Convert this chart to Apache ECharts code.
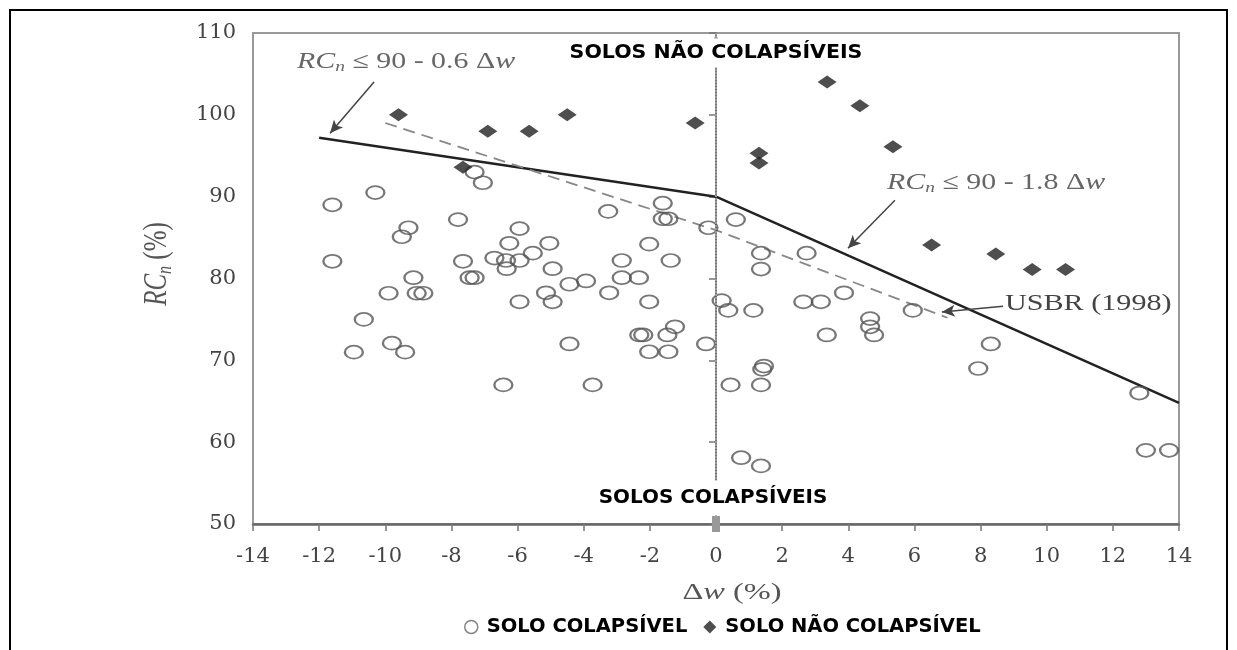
<!DOCTYPE html>
<html>
<head>
<meta charset="utf-8">
<script src="https://cdn.jsdelivr.net/npm/echarts@6/dist/echarts.min.js"></script>
<style>html,body{margin:0;padding:0;background:#fff}#c{width:1237px;height:650px}</style>
</head>
<body>
<div id="c"></div>
<script>
// Δw (%), RCn (%)
const soloColapsivel = [
  [-11.6,89],[-11.6,82.1],[-10.3,90.5],[-10.65,75],[-10.95,71],[-9.9,78.2],[-9.8,72.1],[-9.4,71],
  [-9.5,85.1],[-9.3,86.2],[-9.15,80.1],[-9.05,78.2],[-8.85,78.2],[-7.8,87.2],[-7.65,82.1],[-7.45,80.1],
  [-7.3,80.1],[-7.3,93],[-7.05,91.7],[-6.7,82.5],[-6.35,82.2],[-6.33,81.2],[-6.25,84.3],[-5.94,86.1],
  [-5.94,82.2],[-5.94,77.15],[-5.54,83.1],[-5.04,84.3],[-4.94,81.2],[-5.14,78.25],[-4.94,77.15],[-4.43,79.3],
  [-3.93,79.7],[-4.43,72],[-6.43,67],[-3.73,67],[-3.26,88.2],[-3.23,78.25],[-2.85,82.2],[-2.85,80.1],
  [-2.33,80.1],[-2.02,84.2],[-2.02,77.15],[-2.32,73.1],[-2.2,73.1],[-2.02,71.05],[-1.61,89.2],[-1.61,87.3],
  [-1.44,87.3],[-1.37,82.2],[-1.47,73.1],[-1.24,74.1],[-1.44,71.05],[-0.23,86.2],[-0.3,72],[0.17,77.3],
  [0.37,76.1],[0.6,87.2],[0.44,67],[0.76,58.1],[1.13,76.1],[1.36,83.1],[1.36,81.15],[1.45,69.3],
  [1.4,68.9],[1.36,67],[1.36,57.1],[2.64,77.15],[2.74,83.1],[3.17,77.15],[3.35,73.1],[3.87,78.25],
  [4.66,75.1],[4.66,74.1],[4.78,73.1],[5.95,76.1],[7.93,69],[8.31,72],[12.8,66],[13,59],[13.7,59]
];
const soloNaoColapsivel = [
  [-9.6,100],[-7.65,93.6],[-6.9,98],[-5.65,98],[-4.5,100],[-0.63,99],[1.3,95.3],[1.3,94.1],
  [3.36,104],[4.35,101.1],[5.35,96.1],[6.52,84.1],[8.46,83],[9.56,81.1],[10.57,81.1]
];
const criterioLinha = [[-12,97.2],[0,90],[14,64.8]];
const usbrLinha = [[-10,99],[0,85.9],[7,75.2]];
const setas = [
  [[-10.34,104],[-11.67,97.75]],
  [[5.41,89.55],[3.99,83.7]],
  [[8.68,76.6],[6.83,75.9]]
];
const xTicks = {min:-14, max:14, interval:2};
const yTicks = {min:50, max:110, interval:10};

const serif = "'Liberation Serif','Times New Roman',serif";
const tickFont = "'DejaVu Serif',serif";
const boldSans = "'DejaVu Sans',sans-serif";

const chart = echarts.init(document.getElementById('c'), null, {renderer:'canvas'});
const eqRich = (c) => ({
  i:{fontFamily:serif, fontStyle:'italic', fontSize:23, fill:c},
  s:{fontFamily:serif, fontStyle:'italic', fontSize:15, fill:c, padding:[10,0,0,0]},
  r:{fontFamily:serif, fontSize:23, fill:c}
});
chart.setOption({
  animation:false,
  backgroundColor:'#fff',
  grid:{left:253, top:33, right:58, bottom:126, show:true, borderColor:'#999', borderWidth:2},
  xAxis:{
    type:'value', min:xTicks.min, max:xTicks.max, interval:xTicks.interval,
    axisLine:{lineStyle:{color:'#666', width:2.5}},
    axisTick:{show:true, length:7, lineStyle:{color:'#777', width:1.5}},
    splitLine:{show:false},
    axisLabel:{fontFamily:tickFont, fontSize:21, color:'#444', margin:22}
  },
  yAxis:{
    type:'value', min:yTicks.min, max:yTicks.max, interval:yTicks.interval,
    axisLine:{show:true, lineStyle:{color:'#777', width:2}},
    axisTick:{show:true, length:7, lineStyle:{color:'#777', width:1.5}},
    splitLine:{show:false},
    axisLabel:{fontFamily:tickFont, fontSize:21, color:'#444', margin:17}
  },
  legend:{
    top:612, left:459, itemGap:16, itemWidth:13, itemHeight:13,
    textStyle:{fontFamily:boldSans, fontWeight:'bold', fontSize:19.5, color:'#000', padding:[0,0,0,4]},
    data:[
      {name:'SOLO COLAPSÍVEL', icon:'circle', itemStyle:{color:'#fff', borderColor:'#666', borderWidth:1.5}},
      {name:'SOLO NÃO COLAPSÍVEL', icon:'diamond', itemStyle:{color:'#222', borderWidth:0}}
    ]
  },
  series:[
    {
      name:'SOLO COLAPSÍVEL', type:'scatter', data:soloColapsivel, symbol:'circle', symbolSize:[18,13],
      itemStyle:{color:'rgba(0,0,0,0)', borderColor:'#555', borderWidth:2}, z:3
    },
    {
      name:'SOLO NÃO COLAPSÍVEL', type:'scatter', data:soloNaoColapsivel, symbol:'diamond', symbolSize:[19,13],
      itemStyle:{color:'#222'}, z:4
    },
    {
      name:'criterio', type:'line', data:criterioLinha, symbol:'none',
      lineStyle:{color:'#222', width:2.5}, z:2
    },
    {
      name:'USBR', type:'line', data:usbrLinha, symbol:'none',
      lineStyle:{color:'#888', width:1.8, type:[12,7]}, z:2
    },
    {
      name:'guias', type:'line', data:[], symbol:'none',
      markLine:{
        silent:true, animation:false, label:{show:false},
        data:[
          {xAxis:0, symbol:['none','none'], lineStyle:{color:'#999', width:2, type:[2,1]}}
        ].concat(setas.map(s=>[
          {coord:s[0], symbol:'none', lineStyle:{color:'#444', width:1.5, type:'solid'}},
          {coord:s[1], symbol:'arrow', symbolSize:[9,13]}
        ]))
      }
    }
  ],
  graphic:[
    {type:'rect', z:0, shape:{x:10, y:10, width:1217, height:700}, style:{fill:'none', stroke:'#000', lineWidth:2}},
    {type:'text', z:100, x:716, y:53, scaleX:1.08, style:{x:0, y:0, text:'SOLOS NÃO COLAPSÍVEIS', align:'center', verticalAlign:'middle',
      font:"bold 19px 'DejaVu Sans', sans-serif", fill:'#000', backgroundColor:'#fff', padding:[5,4]}},
    {type:'text', z:100, x:713, y:498, scaleX:1.05, style:{x:0, y:0, text:'SOLOS COLAPSÍVEIS', align:'center', verticalAlign:'middle',
      font:"bold 19px 'DejaVu Sans', sans-serif", fill:'#000', backgroundColor:'#fff', padding:[8,4]}},
    {type:'text', z:100, x:297, y:62, scaleX:1.3, style:{x:0, y:0, text:'{i|RC}{s|n}{r| ≤ 90 - 0.6 Δ}{i|w}', verticalAlign:'middle', rich:eqRich('#666')}},
    {type:'text', z:100, x:887, y:183, scaleX:1.3, style:{x:0, y:0, text:'{i|RC}{s|n}{r| ≤ 90 - 1.8 Δ}{i|w}', verticalAlign:'middle', rich:eqRich('#666')}},
    {type:'text', z:100, x:1005, y:304, scaleX:1.31, style:{x:0, y:0, text:'USBR (1998)', verticalAlign:'middle',
      font:"23px 'Liberation Serif', serif", fill:'#444'}},
    {type:'text', z:100, x:732, y:593, scaleX:1.35, style:{x:0, y:0, text:'{d|Δ}{w|w}{d| (%)}', align:'center', verticalAlign:'middle',
      rich:{d:{fontFamily:serif, fontSize:24, fill:'#555'}, w:{fontFamily:serif, fontStyle:'italic', fontSize:24, fill:'#555'}}}},
    {type:'text', z:100, x:157, y:264, rotation:Math.PI/2, scaleY:1.35, style:{x:0, y:0, text:'{i|RC}{s|n}{r| (%)}', align:'center', verticalAlign:'middle',
      rich:{
        i:{fontFamily:serif, fontStyle:'italic', fontSize:25, fill:'#555'},
        s:{fontFamily:serif, fontStyle:'italic', fontSize:16, fill:'#555', padding:[12,0,0,0]},
        r:{fontFamily:serif, fontSize:25, fill:'#555'}
      }}}
  ]
});
</script>
</body>
</html>
